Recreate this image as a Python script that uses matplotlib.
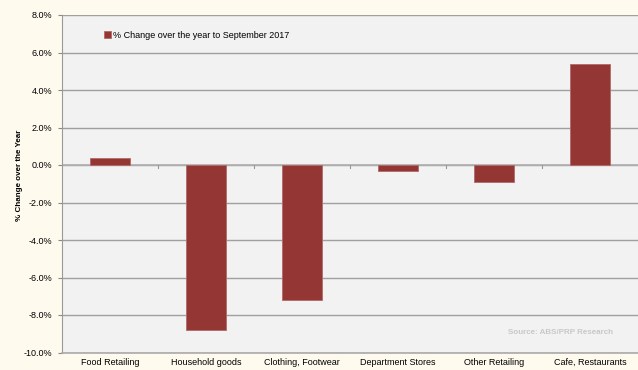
import numpy as np
import matplotlib.pyplot as plt
from matplotlib.ticker import FuncFormatter, FixedLocator

plt.rcParams['font.family'] = ['Liberation Sans', 'DejaVu Sans']

categories = ['Food Retailing', 'Household goods', 'Clothing, Footwear',
              'Department Stores', 'Other Retailing', 'Cafe, Restaurants']
change_pct = [0.4, -8.8, -7.2, -0.3, -0.9, 5.4]
y_ticks = [-10, -8, -6, -4, -2, 0, 2, 4, 6, 8]

bar_col = '#943634'
fs = 6.5

fig = plt.figure(figsize=(6.38, 3.70), dpi=100, facecolor='#fffaee')
ax = fig.add_axes([62 / 638, 1 - 352.5 / 370, 576 / 638, 337.5 / 370])
ax.set_facecolor('#f2f2f2')

x = np.arange(len(categories))
ax.bar(x, change_pct, width=0.41, color=bar_col, edgecolor='#b06a68',
       linewidth=0.6, zorder=3, label='% Change over the year to September 2017')

ax.set_xlim(-0.5, len(categories) - 0.5)
ax.set_ylim(-10, 8)
ax.yaxis.set_major_locator(FixedLocator(y_ticks))
ax.yaxis.set_major_formatter(FuncFormatter(lambda v, p: f'{v:.1f}%'))
ax.grid(axis='y', color='#a0a0a0', linewidth=1.0, zorder=1)
ax.tick_params(axis='y', labelsize=fs, length=3, color='#888888', pad=4)

# category names sit under the plot, the category ticks sit on the zero line
ax.set_xticks([])
for xi, name in zip(x, categories):
    ax.text(xi, -10.3, name, ha='center', va='top', fontsize=fs)
ax.axhline(0, color='#b0b0b0', linewidth=1.2, zorder=2)
for b in np.arange(0.5, len(categories) - 0.5):
    ax.plot([b, b], [0, -0.15], color='#999999', linewidth=0.8, zorder=2)

for side in ['top', 'right']:
    ax.spines[side].set_visible(False)
ax.spines['left'].set_color('#999999')
ax.spines['bottom'].set_color('#aaaaaa')
ax.spines['bottom'].set_linewidth(1.2)

ax.set_ylabel('% Change over the Year', fontsize=5.8, fontweight='bold')
ax.yaxis.set_label_coords(-0.068, 0.526)

ax.legend(loc='upper left', bbox_to_anchor=(0.058, 0.978), frameon=False,
          fontsize=fs, handlelength=0.8, handleheight=0.8, handletextpad=0.3)

ax.text(0.956, 0.058, 'Source: ABS/PRP Research', transform=ax.transAxes,
        ha='right', va='center', fontsize=5.8, fontweight='bold', color='#c8c8c8')

fig.savefig('out.png', dpi=100, facecolor=fig.get_facecolor())
